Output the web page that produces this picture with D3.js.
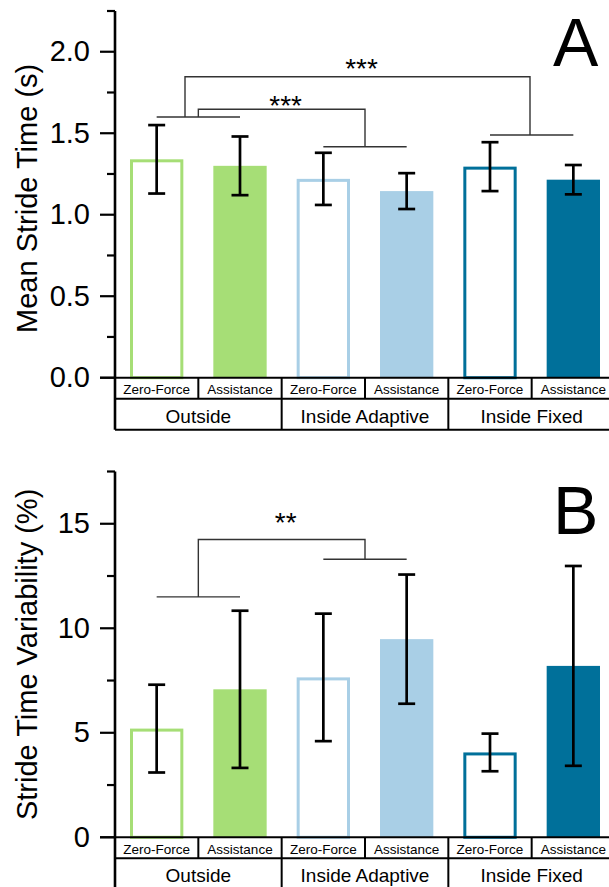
<!DOCTYPE html>
<html>
<head>
<meta charset="utf-8">
<script src="https://cdn.jsdelivr.net/npm/d3@7"></script>
<style>
	html, body { margin: 0; padding: 0; background: #fff; }
	svg { display: block; font-family: 'Liberation Sans', Arial, sans-serif; }
</style>
</head>
<body>
<svg id="chart" width="609" height="887"></svg>
<script>
/* Data */
const conditions = [ 'Zero-Force', 'Assistance', 'Zero-Force', 'Assistance', 'Zero-Force', 'Assistance' ];
const environments = [ 'Outside', 'Inside Adaptive', 'Inside Fixed' ];
const barColors = [ '#a6de76', '#a6de76', '#a9cfe6', '#a9cfe6', '#00709a', '#00709a' ];
const filled = [ false, true, false, true, false, true ];

const strideMean = [ 1.34, 1.3, 1.22, 1.145, 1.295, 1.215 ];
const strideSD = [ 0.21, 0.18, 0.16, 0.11, 0.15, 0.09 ];
const strideTicks = [ 0, 0.5, 1.0, 1.5, 2.0 ];
const strideMinor = [ 0.25, 0.75, 1.25, 1.75, 2.25 ];

const varMean = [ 5.2, 7.08, 7.65, 9.48, 4.06, 8.2 ];
const varSD = [ 2.1, 3.76, 3.05, 3.09, 0.9, 4.78 ];
const varTicks = [ 0, 5, 10, 15 ];
const varMinor = [ 2.5, 7.5, 12.5, 17.5 ];

// significance brackets (bar index positions, value levels)
const strideGroupLines = [ { from: 0, to: 1, level: 1.6 }, { from: 2, to: 3, level: 1.417 }, { from: 4, to: 5, level: 1.489 } ];
const strideBrackets = [
	{ from: 0.5, to: 2.5, left: 1.6, right: 1.417, top: 1.647, star: 1.71, label: '***' },
	{ from: 0.34, to: 4.48, left: 1.6, right: 1.489, top: 1.847, star: 1.94, label: '***' }
];
const varGroupLines = [ { from: 0, to: 1, level: 11.5 }, { from: 2, to: 3, level: 13.3 } ];
const varBrackets = [ { from: 0.5, to: 2.5, left: 11.5, right: 13.3, top: 14.25, star: 15.37, label: '**' } ];

const svg = d3.select('#chart');
const axisX = 115;

const x = d3.scaleBand().domain(d3.range(conditions.length)).range([ axisX, 615 ]).paddingInner(0.36).paddingOuter(0.18);
// index -> pixel, used for table cells and brackets
const xPos = d3.scaleLinear().domain([ -0.5, conditions.length - 0.5 ]).range([ axisX, 615 ]);

function drawPanel(cfg) {
	const g = svg.append('g');
	const y = d3.scaleLinear().domain(cfg.domain).range(cfg.range);
	const y0 = y(0);

	// bars
	g.selectAll('rect.bar')
		.data(cfg.mean)
		.join('rect')
		.attr('class', 'bar')
		.attr('x', (d, i) => (filled[i] ? x(i) : x(i) + 1.5))
		.attr('width', (d, i) => (filled[i] ? x.bandwidth() : x.bandwidth() - 3))
		.attr('y', (d, i) => (filled[i] ? y(d) : y(d) + 1.5))
		.attr('height', (d, i) => (filled[i] ? y0 - y(d) : y0 - y(d) - 1.5))
		.attr('fill', (d, i) => (filled[i] ? barColors[i] : '#fff'))
		.attr('stroke', (d, i) => (filled[i] ? 'none' : barColors[i]))
		.attr('stroke-width', 3);

	// error bars
	const err = g.selectAll('g.err').data(cfg.mean).join('g').attr('class', 'err').attr('stroke', '#000').attr('stroke-width', 2.7);
	err.append('line')
		.attr('x1', (d, i) => xPos(i))
		.attr('x2', (d, i) => xPos(i))
		.attr('y1', (d, i) => y(d + cfg.sd[i]))
		.attr('y2', (d, i) => y(d - cfg.sd[i]));
	[ 1, -1 ].forEach((sign) => {
		err.append('line')
			.attr('x1', (d, i) => xPos(i) - 8.5)
			.attr('x2', (d, i) => xPos(i) + 8.5)
			.attr('y1', (d, i) => y(d + sign * cfg.sd[i]))
			.attr('y2', (d, i) => y(d + sign * cfg.sd[i]));
	});

	// brackets
	const br = g.append('g').attr('stroke', '#333').attr('stroke-width', 1.4).attr('fill', 'none');
	cfg.groupLines.forEach((l) => {
		br.append('line').attr('x1', xPos(l.from)).attr('x2', xPos(l.to)).attr('y1', y(l.level)).attr('y2', y(l.level));
	});
	cfg.brackets.forEach((b) => {
		br.append('path').attr('d', d3.line()([
			[ xPos(b.from), y(b.left) ],
			[ xPos(b.from), y(b.top) ],
			[ xPos(b.to), y(b.top) ],
			[ xPos(b.to), y(b.right) ]
		]));
		g.append('text')
			.attr('x', (xPos(b.from) + xPos(b.to)) / 2 + 4)
			.attr('y', y(b.star) + 16)
			.attr('text-anchor', 'middle')
			.attr('font-size', 28)
			.text(b.label);
	});

	// y axis
	const ax = g.append('g').attr('stroke', '#000');
	ax.append('line').attr('x1', axisX).attr('x2', axisX).attr('y1', cfg.range[1]).attr('y2', y0 + 52).attr('stroke-width', 2.6);
	cfg.ticks.forEach((t) => {
		ax.append('line').attr('x1', 100).attr('x2', axisX).attr('y1', y(t)).attr('y2', y(t)).attr('stroke-width', 2.2);
	});
	cfg.minor.forEach((t) => {
		ax.append('line').attr('x1', 107).attr('x2', axisX).attr('y1', y(t)).attr('y2', y(t)).attr('stroke-width', 2.2);
	});
	g.selectAll('text.tick')
		.data(cfg.ticks)
		.join('text')
		.attr('class', 'tick')
		.attr('x', 90)
		.attr('y', (d) => y(d) + 9.5)
		.attr('text-anchor', 'end')
		.attr('font-size', 29)
		.text(cfg.format);

	g.append('text')
		.attr('transform', `translate(37,${(cfg.range[0] + cfg.range[1]) / 2 + cfg.titleShift}) rotate(-90)`)
		.attr('text-anchor', 'middle')
		.attr('font-size', 29)
		.text(cfg.title);

	// category table under the axis
	const tb = g.append('g').attr('stroke', '#000').attr('stroke-width', 2);
	tb.append('line').attr('x1', 100).attr('x2', 615).attr('y1', y0).attr('y2', y0);
	tb.append('line').attr('x1', axisX).attr('x2', 615).attr('y1', y0 + 21).attr('y2', y0 + 21);
	tb.append('line').attr('x1', axisX).attr('x2', 615).attr('y1', y0 + 52).attr('y2', y0 + 52);
	d3.range(1, conditions.length + 1).forEach((i) => {
		const xx = xPos(i - 0.5);
		tb.append('line').attr('x1', xx).attr('x2', xx).attr('y1', y0).attr('y2', i % 2 == 0 ? y0 + 52 : y0 + 21);
	});
	g.selectAll('text.cond')
		.data(conditions)
		.join('text')
		.attr('class', 'cond')
		.attr('x', (d, i) => xPos(i))
		.attr('y', y0 + 16.5)
		.attr('text-anchor', 'middle')
		.attr('font-size', 13.5)
		.text((d) => d);
	g.selectAll('text.env')
		.data(environments)
		.join('text')
		.attr('class', 'env')
		.attr('x', (d, i) => xPos(i * 2 + 0.5))
		.attr('y', y0 + 45)
		.attr('text-anchor', 'middle')
		.attr('font-size', 19)
		.text((d) => d);

	g.append('text')
		.attr('x', cfg.letterX)
		.attr('y', cfg.letterY)
		.attr('font-size', 68)
		.text(cfg.letter);
}

drawPanel({
	domain: [ 0, 2.25 ],
	range: [ 377.7, 11 ],
	mean: strideMean,
	sd: strideSD,
	ticks: strideTicks,
	minor: strideMinor,
	format: d3.format('.1f'),
	groupLines: strideGroupLines,
	brackets: strideBrackets,
	title: 'Mean Stride Time (s)',
	titleShift: 4,
	letter: 'A',
	letterX: 553,
	letterY: 66
});

drawPanel({
	domain: [ 0, 17.5 ],
	range: [ 837.3, 471.5 ],
	mean: varMean,
	sd: varSD,
	ticks: varTicks,
	minor: varMinor,
	format: d3.format('d'),
	groupLines: varGroupLines,
	brackets: varBrackets,
	title: 'Stride Time Variability (%)',
	titleShift: 0,
	letter: 'B',
	letterX: 553,
	letterY: 534
});
</script>
</body>
</html>
